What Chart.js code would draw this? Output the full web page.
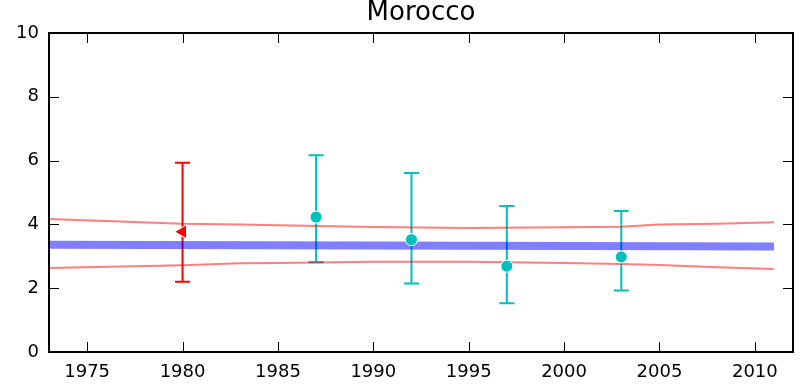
<!DOCTYPE html>
<html>
<head>
<meta charset="utf-8">
<script src="https://cdn.jsdelivr.net/npm/chart.js@4/dist/chart.umd.min.js"></script>
<style>
html,body{margin:0;padding:0;background:#fff;}
canvas{display:block;}
</style>
</head>
<body>
<canvas id="c" width="803" height="385"></canvas>
<script>
// ---- data ----
const titleText = "Morocco";
const xTicks = [1975, 1980, 1985, 1990, 1995, 2000, 2005, 2010];
const yTicks = [0, 2, 4, 6, 8, 10];

const triYears = [1980];
const triValues = [3.77];
const triLower = [2.20];
const triUpper = [5.93];

const circYears = [1987, 1992, 1997, 2003];
const circValues = [4.23, 3.52, 2.69, 2.98];
const circLower = [2.81, 2.15, 1.53, 1.93];
const circUpper = [6.17, 5.61, 4.58, 4.42];

const trendYears = [1973, 1990, 2011];
const trendValues = [3.36, 3.34, 3.31];

const bandYears = [1973, 1980, 1983, 1985, 1990, 1995, 2000, 2003, 2005, 2008, 2011];
const bandUpper = [4.17, 4.02, 4.00, 3.97, 3.92, 3.89, 3.91, 3.93, 4.00, 4.02, 4.07];
const bandLower = [2.63, 2.72, 2.78, 2.79, 2.83, 2.83, 2.79, 2.76, 2.73, 2.66, 2.60];

const toXY = (xs, ys) => xs.map((x, i) => ({x: x, y: ys[i]}));

const RED = '#ff0000';
const CYAN = '#00bfbf';

const errorBars = [
  {xs: triYears, lo: triLower, hi: triUpper, color: RED},
  {xs: circYears, lo: circLower, hi: circUpper, color: CYAN}
];

const errorBarPlugin = {
  id: 'errorBars',
  beforeDatasetsDraw(chart) {
    const {ctx, scales: {x, y}} = chart;
    ctx.save();
    ctx.lineWidth = 2;
    errorBars.forEach(g => {
      ctx.strokeStyle = g.color;
      g.xs.forEach((xv, i) => {
        const px = x.getPixelForValue(xv);
        const p1 = y.getPixelForValue(g.lo[i]);
        const p2 = y.getPixelForValue(g.hi[i]);
        ctx.beginPath();
        ctx.moveTo(px, p1); ctx.lineTo(px, p2);
        ctx.moveTo(px - 7.5, p1); ctx.lineTo(px + 7.5, p1);
        ctx.moveTo(px - 7.5, p2); ctx.lineTo(px + 7.5, p2);
        ctx.stroke();
      });
    });
    ctx.restore();
  }
};

const framePlugin = {
  id: 'frame',
  afterDraw(chart) {
    const {ctx, chartArea: {left, right, top, bottom}, scales: {x, y}} = chart;
    ctx.save();
    ctx.strokeStyle = '#000';
    ctx.lineWidth = 1;
    ctx.beginPath();
    xTicks.forEach(v => {
      const px = Math.round(x.getPixelForValue(v)) + 0.5;
      ctx.moveTo(px, bottom); ctx.lineTo(px, bottom - 10);
      ctx.moveTo(px, top); ctx.lineTo(px, top + 10);
    });
    yTicks.forEach(v => {
      const py = Math.round(y.getPixelForValue(v)) + 0.5;
      ctx.moveTo(left, py); ctx.lineTo(left + 10, py);
      ctx.moveTo(right, py); ctx.lineTo(right - 10, py);
    });
    ctx.stroke();
    ctx.lineWidth = 2;
    ctx.strokeRect(left, top, right - left, bottom - top);
    // title centred over the plot area
    ctx.fillStyle = '#000';
    ctx.font = '26px "DejaVu Sans"';
    ctx.textAlign = 'center';
    ctx.textBaseline = 'alphabetic';
    ctx.fillText(titleText, (left + right) / 2, 20);
    ctx.restore();
  }
};

new Chart(document.getElementById('c'), {
  type: 'scatter',
  data: {
    datasets: [
      {
        data: toXY(triYears, triValues),
        pointStyle: 'triangle',
        rotation: -90,
        pointRadius: 8,
        backgroundColor: RED,
        borderColor: '#ffffff',
        borderWidth: 1,
        showLine: false
      },
      {
        data: toXY(circYears, circValues),
        pointStyle: 'circle',
        pointRadius: 6,
        backgroundColor: CYAN,
        borderColor: '#ffffff',
        borderWidth: 1,
        showLine: false
      },
      {
        data: toXY(bandYears, bandUpper),
        showLine: true,
        borderColor: 'rgba(255,0,0,0.5)',
        borderWidth: 2,
        pointRadius: 0,
        tension: 0
      },
      {
        data: toXY(bandYears, bandLower),
        showLine: true,
        borderColor: 'rgba(255,0,0,0.5)',
        borderWidth: 2,
        pointRadius: 0,
        tension: 0
      },
      {
        data: toXY(trendYears, trendValues),
        showLine: true,
        borderColor: 'rgba(0,0,255,0.5)',
        borderWidth: 8,
        borderCapStyle: 'butt',
        pointRadius: 0,
        tension: 0
      }
    ]
  },
  options: {
    responsive: false,
    animation: false,
    devicePixelRatio: 1,
    layout: {padding: {top: 33, right: 10, left: 0, bottom: 0}},
    plugins: {
      legend: {display: false},
      tooltip: {enabled: false},
      title: {display: false}
    },
    scales: {
      x: {
        type: 'linear',
        min: 1973,
        max: 2012,
        grid: {display: false, drawTicks: false},
        border: {display: false},
        afterFit: s => { s.height = 33; },
        afterBuildTicks: s => { s.ticks = xTicks.map(v => ({value: v})); },
        ticks: {
          color: '#000',
          padding: 10,
          maxRotation: 0,
          autoSkip: false,
          font: {family: 'DejaVu Sans', size: 18},
          callback: v => String(v)
        }
      },
      y: {
        type: 'linear',
        min: 0,
        max: 10,
        grid: {display: false, drawTicks: false},
        border: {display: false},
        afterFit: s => { s.width = 49; },
        afterBuildTicks: s => { s.ticks = yTicks.map(v => ({value: v})); },
        ticks: {
          color: '#000',
          padding: 10,
          font: {family: 'DejaVu Sans', size: 18},
          callback: v => String(v)
        }
      }
    }
  },
  plugins: [errorBarPlugin, framePlugin]
});
</script>
</body>
</html>
